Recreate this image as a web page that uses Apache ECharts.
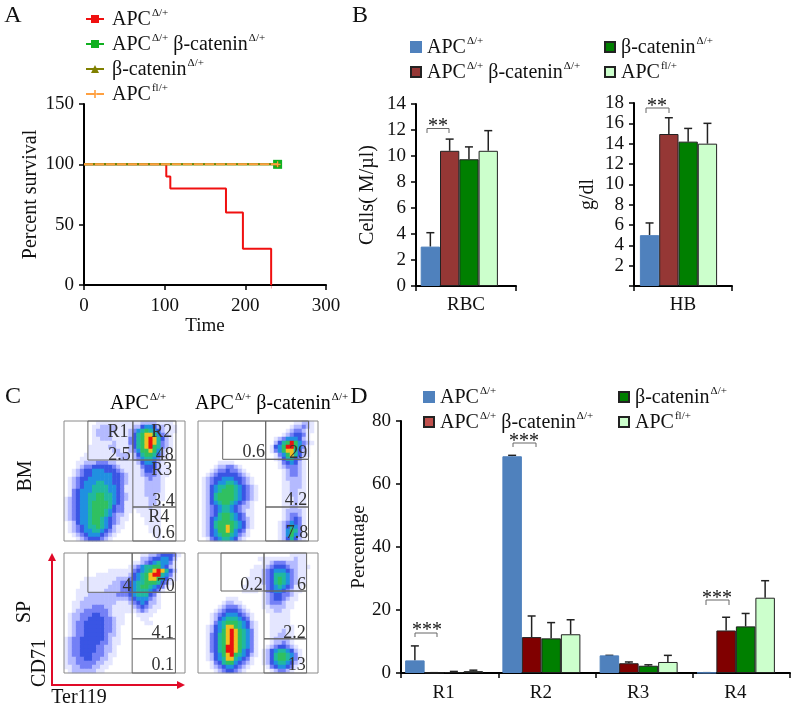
<!DOCTYPE html>
<html><head><meta charset="utf-8">
<style>html,body{margin:0;padding:0;background:#fff}#c{width:800px;height:709px}</style>
<script src="https://cdn.jsdelivr.net/npm/echarts@6/dist/echarts.min.js"></script>
</head><body><div id="c"></div>
<script>
// ---------- Panel A data ----------
const survivalTimes = [0, 102, 107, 176, 197, 232];
const survivalAPC   = [100, 90, 80, 60, 30, 0];
const censorTimes   = [0, 240];
const censorValues  = [100, 100];
// ---------- Panel B data ----------
const rbcValues = [3.03, 10.4, 9.75, 10.4];
const rbcTops   = [4.1, 11.3, 10.7, 11.95];
const hbValues  = [5, 14.95, 14.2, 14];
const hbTops    = [6.2, 16.55, 15.5, 16];
// ---------- Panel D data ----------
const regions = ['R1', 'R2', 'R3', 'R4'];
const dAPC      = [4.0, 68.8, 5.6, 0.1];
const dAPCTop   = [8.6, 69.1, 5.6, 0.1];
const dDouble   = [0.1, 11.4, 3.1, 13.5];
const dDoubleTop= [0.1, 18.1, 3.5, 17.7];
const dBeta     = [0.3, 11, 2.3, 14.8];
const dBetaTop  = [0.5, 16, 2.6, 18.9];
const dFl       = [0.6, 12.3, 3.5, 23.9];
const dFlTop    = [0.9, 16.9, 5.6, 29.3];
// ---------- Panel C data: density read cell by cell (0 empty .. 9 hottest) ----------
const densityBM1 = [
"000000001111111111122221111000","000000011222211112245542211100","000000012222211123567654211100",
"000000012222111124678875321000","000000011222111134678986421000","000000011111211134678986321000",
"000000111112211124678976321000","000000111111221123577875210000","000001111111122212467764210000",
"000011111111112212356653110000","000112223332211111245542100000","000123344444321111134442110000",
"001234455544432111124432110000","001234455555443211123332110000","012344555555443211112322100000",
"012345556655443211112222100000","012345566665543111112222100000","013455566665543111112222100000",
"013455667766543211112221100000","123455667766543211111221100000","123455677776543111111221000000",
"123455677776433111111211000000","123455677765433110111111000000","123455677765322100011111000000",
"123455677654321100001111000000","012455677654321000001111000000","012345667654211000000111000000",
"012345566543210000000111000000","001234555432100000000011000000","000123444321000000000001000000"];
const densityBM2 = [
"000000000000000000000000112210","000000000000000000000001223210","000000000000000000000012332110",
"000000000000000000000123443100","000000000000000000012355542100","000000000000000000024679753210",
"000000000000000000145799753100","000000000000000000135788642100","000000000000000000013578642100",
"000000000000000000012466431000","000001111000000000001345421000","000012233210000000001233321000",
"000123343321000000000123321000","001234444432100000000123321000","012344555443210000000122221000",
"012345566543210000000112221000","012456677654321000000112221000","012456777654321000000112211000",
"012467777654321000000112211000","012467777654321000000111211000","012456776543210000000111211000",
"012345665432210000000112211000","012345665432110000000122221000","012346776543110000000123321000",
"012456776543210000000123431000","012467777654210000001235431000","012467787654210000001246531000",
"012457787543100000001257631000","012456776532100000001257531000","001345665421000000001246421000"];
const densitySP1 = [
"000000000000000000011223444310","000000000000000000022344554200","000000000000000001123456553100",
"000000000000000012356677542100","000000000001111113456789864200","000000001111111124567899653100",
"000001111111122234567887542100","000011111111223345667776431000","000011111112223345677654310000",
"000111111122223345666543100000","000111222222233345666431000000","000112222222222234555321000000",
"001122222222211123454221000000","001122233322111112343211000000","001223333332111111232110000000",
"012233344332111000111100000000","012233444433211000011000000000","012334444433211000001100000000",
"012334444433210000000000000000","012334444433210000000000000000","012334444432210000000000000000",
"123344444432110000000000000000","123344444332110000000000000000","123344443322100000000000000000",
"123344443322100000000000000000","123344433321100000000000000000","122334433221000000000000000000",
"122333332211000000000000000000","112233322110000000000000000000","012222221100000000000000000000"];
const densitySP2 = [
"000000000000000000000001111000","000000000000000111111111211000","000000000000000011233322211000",
"000000000000001112344432211100","000000000000011123455543211000","000000000000011123466653211000",
"000000000000111123467653211000","000000000000111123467653211000","000000000001111113456543110000",
"000000000001111013455432110000","000000000000000012344332100000","000000011100000012344321100000",
"000000122110000012333211000000","000001233321000011222211000000","000012344432100001122110000000",
"000123455543210000111110000000","000124566654310000111110000000","000135677765421000111110000000",
"001245688765421000111111000000","001245789876531000111211000000","001346789876531000112211000000",
"001346789876531000122221000000","001346789876531000122321000000","001346799876531001234432100000",
"001346799875431012456654210000","001245789765421012467765310000","001245688654310012467765310000",
"000134677543210012456654210000","000123455432100001345543100000","000012344321000000123321000000"];
const gatesBM1 = [[23.7,0,68.3,39],[68.3,0,111,39],[68.3,39,111,86],[68.3,86,111,120]];
const gatesBM2 = [[24.7,0,67.7,38.3],[67.7,0,110.5,38.3],[67.7,38.3,110.5,86],[67.7,86,110.5,120]];
const gatesSP1 = [[23.7,0,67.6,39.3],[67.6,0,110.5,39.3],[67.6,39.3,110.5,85.8],[67.6,85.8,110.5,120]];
const gatesSP2 = [[23,0,66,38],[66,0,108.6,38],[66,38,108.6,85.8],[66,85.8,108.6,120]];
const labelsBM1 = [[53.5,11.5,'R1'],[55,34,'2.5'],[97,11.5,'R2'],[100,34,'48'],[97,49.5,'R3'],[98.7,80,'3.4'],[94,96,'R4'],[98.7,112.5,'0.6']];
const labelsBM2 = [[55.8,31.7,'0.6'],[100.3,32.3,'29'],[98,79,'4.2'],[99,112,'7.8']];
const labelsSP1 = [[62.4,33,'4'],[101,33,'70'],[98,80,'4.1'],[98,112,'0.1']];
const labelsSP2 = [[53.5,32,'0.2'],[103.6,32,'6'],[96.4,80,'2.2'],[98.7,112,'13']];

// ---------- styling ----------
const SERIF = '"Liberation Serif","Times New Roman",serif';
const INK = '#111';
const C = {blue:'#4f81bd', red:'#953735', green:'#007f00', light:'#ccffcc', dred:'#800000', lred:'#c0504d'};
const richFor = (size) => ({
  a:{fontFamily:SERIF,fontSize:size,color:INK,verticalAlign:'bottom',lineHeight:22},
  s:{fontFamily:SERIF,fontSize:size*0.55,color:INK,verticalAlign:'top',lineHeight:22,padding:[0,0,0,1]},
  g:{width:1,height:1},
  h:{width:3,height:1}
});
const N = {
  apc:'{g|}{a|APC}{s|Δ/+}',
  dbl:'{g|}{a|APC}{s|Δ/+}{a| β-catenin}{s|Δ/+}',
  beta:'{g|}{a|β-catenin}{s|Δ/+}',
  fl:'{g|}{a|APC}{s|fl/+}'
};
const NA = {
  apc:'{h|}{a|APC}{s|Δ/+}',
  dbl:'{h|}{a|APC}{s|Δ/+}{a| β-catenin}{s|Δ/+}',
  beta:'{h|}{a|β-catenin}{s|Δ/+}',
  fl:'{h|}{a|APC}{s|fl/+}'
};
const fmt = n => N[n.split(':')[1]];
const fmtA = n => NA[n.split(':')[1]];
const ids = p => ['apc','dbl','beta','fl'].map(k => p+':'+k);

function legendAt(names,left,top,gap,extra){
  return Object.assign({show:true,orient:'vertical',left,top,itemGap:gap,padding:0,selectedMode:false,
    itemWidth:10,itemHeight:10,formatter:fmt,data:names,
    textStyle:{rich:richFor(20),fontFamily:SERIF,fontSize:20,color:INK}},extra||{});
}
const axisLine = {show:true,onZero:false,lineStyle:{color:'#000',width:2}};
const tick = {show:true,length:5,lineStyle:{color:'#000',width:1.5}};
const lab = (size,m,extra) => Object.assign({fontFamily:SERIF,fontSize:size,color:INK,margin:m},extra||{});
const nameSt = size => ({fontFamily:SERIF,fontSize:size,color:INK});

const grid=[], xAxis=[], yAxis=[], series=[];
function addGrid(g,x,y){grid.push(g);const i=grid.length-1;xAxis.push(Object.assign({gridIndex:i},x));yAxis.push(Object.assign({gridIndex:i},y));return i;}

// ---- Panel A ----
const gA = addGrid({left:84,top:104,width:242,height:181},
  {type:'value',min:0,max:300,interval:100,axisLine,axisTick:tick,axisLabel:lab(19,12),splitLine:{show:false},
   name:'Time',nameLocation:'middle',nameGap:30,nameTextStyle:nameSt(19)},
  {type:'value',min:0,max:150,interval:50,axisLine,axisTick:tick,axisLabel:lab(19,10),splitLine:{show:false},
   name:'Percent survival',nameLocation:'middle',nameGap:43,nameTextStyle:nameSt(20)});
const lastMark = (xs,ys) => xs.map((x,i)=> i===xs.length-1 ? [x,ys[i]] : {value:[x,ys[i]],symbol:'none'});
const PLUS='path://M4,0H6V4H10V6H6V10H4V6H0V4H4Z';
const TICKM='path://M0,0H2V10H0Z';
series.push(
 {name:'A:apc',type:'line',xAxisIndex:gA,yAxisIndex:gA,step:'end',data:lastMark(survivalTimes,survivalAPC),symbol:TICKM,symbolSize:[2,7],symbolKeepAspect:true,showSymbol:true,lineStyle:{color:'#f01010',width:2},itemStyle:{color:'#f01010'},z:3},
 {name:'A:dbl',type:'line',xAxisIndex:gA,yAxisIndex:gA,data:lastMark(censorTimes,censorValues),symbol:'rect',symbolSize:9,lineStyle:{color:'#10b020',width:2},itemStyle:{color:'#10b020'},z:4},
 {name:'A:beta',type:'line',xAxisIndex:gA,yAxisIndex:gA,data:lastMark(censorTimes,censorValues),symbol:'triangle',symbolSize:5,lineStyle:{color:'#808000',width:2},itemStyle:{color:'#808000'},z:5},
 {name:'A:fl',type:'line',xAxisIndex:gA,yAxisIndex:gA,data:lastMark(censorTimes,censorValues),symbol:PLUS,symbolSize:6,lineStyle:{color:'#ffa040',width:2,type:[9,2]},itemStyle:{color:'#ffa040'},z:6}
);

// ---- bar helpers ----
function errSeries(gi,values,tops,slot,barW,padW){
  return {type:'custom',xAxisIndex:gi,yAxisIndex:gi,z:1,silent:true,
    data:tops.map((t,i)=>[i,values[i],t]),
    encode:{x:0,y:[1,2]},
    renderItem(params,api){
      const low=api.coord([api.value(0),api.value(1)]), high=api.coord([api.value(0),api.value(2)]);
      const total=4*barW+padW;
      const x=low[0]-total/2+(slot+0.5)*barW;
      const st={stroke:'#222',lineWidth:1.5,fill:null};
      return {type:'group',children:[
        {type:'line',shape:{x1:x,y1:low[1],x2:x,y2:high[1]},style:st},
        {type:'line',shape:{x1:x-4,y1:high[1],x2:x+4,y2:high[1]},style:st}]};
    }};
}
function barSeries(gi,name,values,color,border,barW){
  return {name,type:'bar',xAxisIndex:gi,yAxisIndex:gi,data:values,barWidth:barW,barGap:0,z:2,
    itemStyle:{color,borderColor:border,borderWidth:1}};
}
function padSeries(gi,n,padW){
  return {type:'bar',xAxisIndex:gi,yAxisIndex:gi,data:new Array(n).fill(0),barWidth:padW,barGap:0,silent:true,
    itemStyle:{color:'rgba(0,0,0,0)',borderWidth:0}};
}
function addBarGroup(gi,p,cols,vals,tops,barW,padW){
  ids(p).forEach((id,k)=>series.push(barSeries(gi,id,vals[k],cols[k],k===0?C.blue:'#222',barW)));
  series.push(padSeries(gi,vals[0].length,padW));
  tops.forEach((t,k)=>series.push(errSeries(gi,vals[k],t,k,barW,padW)));
}
// ---- Panel B ----
const gR = addGrid({left:416,top:104,width:100,height:182},
  {type:'category',data:['RBC'],axisLine,axisTick:tick,axisLabel:lab(19,10)},
  {type:'value',min:0,max:14,interval:2,axisLine,axisTick:tick,axisLabel:lab(19,10),splitLine:{show:false},
   name:'Cells( M/µl)',nameLocation:'middle',nameGap:38,nameTextStyle:nameSt(20)});
const gH = addGrid({left:634,top:103,width:98,height:183},
  {type:'category',data:['HB'],axisLine,axisTick:tick,axisLabel:lab(19,10)},
  {type:'value',min:0,max:18,interval:2,axisLine,axisTick:tick,splitLine:{show:false},
   axisLabel:lab(19,10,{formatter:v=>v===0?'':String(v)}),
   name:'g/dl',nameLocation:'middle',nameGap:36,nameTextStyle:nameSt(20)});
const split = a => a.map(v=>[v]);
const colsB=[C.blue,C.red,C.green,C.light];
addBarGroup(gR,'B',colsB,split(rbcValues),split(rbcTops),19.3,13.4);
addBarGroup(gH,'B',colsB,split(hbValues),split(hbTops),19.3,9);
// ---- Panel D ----
const gD = addGrid({left:401,top:421,width:389,height:252},
  {type:'category',data:regions,axisLine,axisTick:tick,axisLabel:lab(19,11,{padding:[0,12,0,0]})},
  {type:'value',min:0,max:80,interval:20,axisLine,axisTick:tick,axisLabel:lab(19,10),splitLine:{show:false},
   name:'Percentage',nameLocation:'middle',nameGap:29,nameTextStyle:nameSt(19)});
addBarGroup(gD,'D',[C.blue,C.dred,C.green,C.light],[dAPC,dDouble,dBeta,dFl],[dAPCTop,dDoubleTop,dBetaTop,dFlTop],19.5,11);

// ---- Panel C ----
const heatCats = Array.from({length:30},(_,i)=>i);
function addFlow(rect,rows,gates,labels){
  const hid={show:false};
  const gi=addGrid(rect,
    {type:'category',data:heatCats,axisLine:hid,axisTick:hid,axisLabel:hid,splitLine:hid},
    {type:'category',data:heatCats,inverse:true,axisLine:hid,axisTick:hid,axisLabel:hid,splitLine:hid});
  const cells=[];
  rows.forEach((row,r)=>row.split('').forEach((ch,c)=>{const v=+ch;if(v>0)cells.push([c,r,v]);}));
  series.push({type:'heatmap',xAxisIndex:gi,yAxisIndex:gi,data:cells,silent:true,z:1,progressive:0});
  const go=addGrid(rect,
    {type:'value',min:0,max:120,axisLine:hid,axisTick:hid,axisLabel:hid,splitLine:hid},
    {type:'value',min:0,max:120,inverse:true,axisLine:hid,axisTick:hid,axisLabel:hid,splitLine:hid});
  const box=(api,a,b,c,d)=>{const p=api.coord([a,b]),q=api.coord([c,d]);return {x:p[0],y:p[1],width:q[0]-p[0],height:q[1]-p[1]};};
  series.push({type:'custom',xAxisIndex:go,yAxisIndex:go,z:3,silent:true,data:[[0,0,120,120]].concat(gates),
    clip:false,
    renderItem(params,api){
      return {type:'rect',shape:box(api,api.value(0),api.value(1),api.value(2),api.value(3)),
        style:{fill:null,stroke:params.dataIndex===0?'#8a8a8a':'#666',lineWidth:1}};
    }});
  series.push({type:'custom',xAxisIndex:go,yAxisIndex:go,z:4,silent:true,clip:false,
    data:labels.map(l=>[l[0],l[1]]),
    renderItem(params,api){
      const p=api.coord([api.value(0),api.value(1)]);
      return {type:'text',x:p[0],y:p[1],style:{text:labels[params.dataIndex][2],fontFamily:SERIF,fontSize:18,fill:'#333',align:'center',verticalAlign:'middle'}};
    }});
}
addFlow({left:64,top:421,width:121,height:120},densityBM1,gatesBM1,labelsBM1);
addFlow({left:198,top:421,width:120,height:120},densityBM2,gatesBM2,labelsBM2);
addFlow({left:64,top:553,width:121,height:120},densitySP1,gatesSP1,labelsSP1);
addFlow({left:198,top:553,width:120,height:120},densitySP2,gatesSP2,labelsSP2);

// ---- annotations ----
const T=(text,x,y,size,extra)=>({type:'text',x,y,style:Object.assign({text,fontFamily:SERIF,fontSize:size,fill:INK,align:'center',verticalAlign:'middle'},extra||{})});
const RT=(text,x,y,size)=>({type:'text',x,y,style:{text,rich:richFor(size),align:'left',verticalAlign:'middle'}});
const rot=(e,deg)=>Object.assign(e,{rotation:deg*Math.PI/180});
const bracket=(x1,x2,y1,y2,sx,sy,stars)=>[
  {type:'polyline',shape:{points:[[x1,y2],[x1,y1],[x2,y1],[x2,y2]]},style:{stroke:'#666',lineWidth:1,fill:null}},
  T(stars,sx,sy,20,{fill:'#111'})];
const graphic=[
  T('A',13,16,24),T('B',360,16,24),T('C',13,397,24),T('D',359,397,24),
  RT('{a|APC}{s|Δ/+}',110,403,20),
  RT('{a|APC}{s|Δ/+}{a| β-catenin}{s|Δ/+}',195,403,20),
  rot(T('BM',26,476,20),90),rot(T('SP',25,612,20),90),rot(T('CD71',40,663,20),90),
  T('Ter119',79,698,20),
  {type:'polyline',shape:{points:[[52,560],[52,685],[178,685]]},style:{stroke:'#e00a28',lineWidth:2,fill:null}},
  {type:'polygon',shape:{points:[[52,553],[48,561],[56,561]]},style:{fill:'#e00a28'}},
  {type:'polygon',shape:{points:[[185,685],[177,681],[177,689]]},style:{fill:'#e00a28'}},
  ...bracket(427,449,128.5,133,438,127,'**'),
  ...bracket(646,669,108,113,657,107,'**'),
  ...bracket(415,437,633,637,427,631,'***'),
  ...bracket(513,536,443,447,524,442,'***'),
  ...bracket(706,729,600,605,717,599,'***')
];

const legendB=(names,left,top)=>legendAt(names,left,top,3,{icon:'rect'});
const legend=[
  legendAt(ids('A'),85,8,3,{itemWidth:18,itemHeight:10,formatter:fmtA}),
  legendB(['B:apc','B:dbl'],410,36),
  legendB(['B:beta','B:fl'],604,36),
  legendB(['D:apc',{name:'D:dbl',itemStyle:{color:C.lred}}],423,386),
  legendB(['D:beta','D:fl'],618,386)
];

const chart=echarts.init(document.getElementById('c'),null,{renderer:'canvas'});
chart.setOption({animation:false,backgroundColor:'#fff',tooltip:{show:false},
  visualMap:{show:false,type:'continuous',min:1,max:9,seriesIndex:series.map((s,i)=>s.type==='heatmap'?i:-1).filter(i=>i>=0),
    inRange:{color:['#e4e6ff','#b4baff','#7480f6','#3a55e4','#2090e0','#20b8a0','#30c060','#f0c020','#ea1010']}},
  grid,xAxis,yAxis,series,legend,graphic});
</script></body></html>
